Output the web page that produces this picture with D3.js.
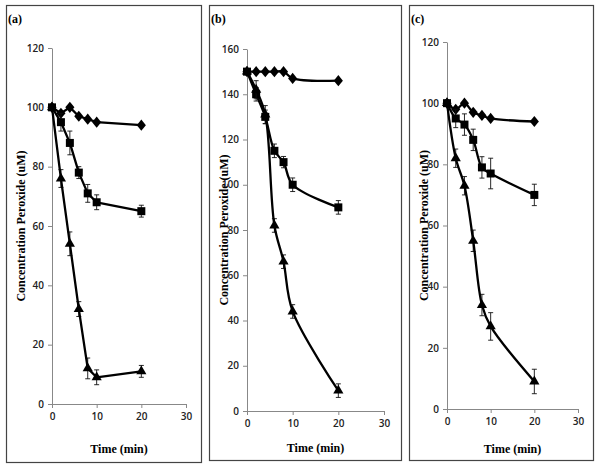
<!DOCTYPE html>
<html><head><meta charset="utf-8">
<script src="https://cdn.jsdelivr.net/npm/d3@7"></script>
<style>body{margin:0;background:#fff}svg{display:block}
.serif{font-family:"Liberation Serif","Times New Roman",serif;font-weight:bold}
</style>
</head><body>
<svg id="c" width="600" height="469"></svg>
<script>
const times = [0, 2, 4, 6, 8, 10, 20];
const xTicks = [0, 10, 20, 30];

// Panel (a)
const aDiamond = [100, 98, 100, 97, 96, 95, 94];
const aSquare = [100, 95, 88, 78, 71, 68, 65];
const aSquareErr = [0, 3, 4, 2, 3, 2.5, 2];
const aTriangle = [100, 76, 54, 32, 12, 9, 11];
const aTriangleErr = [0, 3, 4, 2.5, 3.5, 2.5, 2];
const aYTicks = [0, 20, 40, 60, 80, 100, 120];

// Panel (b)
const bDiamond = [150, 150, 150, 150, 150, 147, 146];
const bSquare = [150, 140, 130, 115, 110, 100, 90];
const bSquareErr = [0, 3, 3, 3, 2.5, 3, 3];
const bTriangle = [150, 142, 131, 82, 66, 44, 9];
const bTriangleErr = [0, 4, 4, 3, 3, 3, 3];
const bYTicks = [0, 20, 40, 60, 80, 100, 120, 140, 160];

// Panel (c)
const cDiamond = [100, 98, 100, 97, 96, 95, 94];
const cSquare = [100, 95, 93, 88, 79, 77, 70];
const cSquareErr = [0, 3, 3.5, 3.5, 3.5, 5, 3.5];
const cTriangle = [100, 82, 73, 55, 34, 27, 9];
const cTriangleErr = [0, 3, 3, 3.5, 3.5, 4.5, 4];
const cYTicks = [0, 20, 40, 60, 80, 100, 120];

const svg = d3.select("#c");

const panels = [
  {label:"(a)", box:[6,5,201,462], x0:52, x1:186, y0:404, y1:48, ymax:120, yt:aYTicks,
   diamond:aDiamond, square:aSquare, sErr:aSquareErr, tri:aTriangle, tErr:aTriangleErr,
   smooth:false, titleY:453},
  {label:"(b)", box:[209,5,401,460], x0:247, x1:384, y0:411, y1:49, ymax:160, yt:bYTicks,
   diamond:bDiamond, square:bSquare, sErr:bSquareErr, tri:bTriangle, tErr:bTriangleErr,
   smooth:true, titleY:452},
  {label:"(c)", box:[409,5,593,460], x0:447, x1:578, y0:409, y1:42, ymax:120, yt:cYTicks,
   diamond:cDiamond, square:cSquare, sErr:cSquareErr, tri:cTriangle, tErr:cTriangleErr,
   smooth:true, titleY:453}
];

panels.forEach(p => {
  const g = svg.append("g");
  const [bx0, by0, bx1, by1] = p.box;
  g.append("rect").attr("x", bx0+0.5).attr("y", by0+0.5)
    .attr("width", bx1-bx0).attr("height", by1-by0)
    .attr("fill", "none").attr("stroke", "#444").attr("stroke-width", 1.2);
  g.append("text").attr("class", "serif").attr("x", bx0+2).attr("y", by0+18)
    .attr("font-size", 12).attr("fill", "#000").text(p.label);

  const x = d3.scaleLinear().domain([0, 30]).range([p.x0, p.x1]);
  const y = d3.scaleLinear().domain([0, p.ymax]).range([p.y0, p.y1]);

  const xAxis = g.append("g").attr("transform", `translate(0,${p.y0})`)
    .call(d3.axisBottom(x).tickValues(xTicks).tickSize(4).tickSizeOuter(0));
  const yAxis = g.append("g").attr("transform", `translate(${p.x0},0)`)
    .call(d3.axisLeft(y).tickValues(p.yt).tickSize(4).tickSizeOuter(0));
  [xAxis, yAxis].forEach(a => {
    a.select(".domain").attr("stroke", "#888").attr("stroke-width", 1);
    a.selectAll(".tick line").attr("stroke", "#888");
    a.selectAll(".tick text").attr("font-family", "Open Sans").attr("font-size", 10)
      .attr("font-weight", "600").attr("fill", "#222");
  });
  xAxis.selectAll(".tick text").attr("y", 9);
  yAxis.selectAll(".tick text").attr("x", -8);

  g.append("text").attr("class", "serif").attr("x", (p.x0+p.x1)/2).attr("y", p.titleY)
    .attr("text-anchor", "middle").attr("font-size", 12).text("Time (min)");
  g.append("text").attr("class", "serif")
    .attr("transform", `translate(${bx0+19},${(p.y0+p.y1)/2}) rotate(-90)`)
    .attr("text-anchor", "middle").attr("font-size", 12)
    .text("Concentration Peroxide (uM)");

  const line = d3.line().x((d,i) => x(times[i])).y(d => y(d))
    .curve(p.smooth ? d3.curveCatmullRom.alpha(0.5) : d3.curveLinear);

  const series = [
    {vals:p.diamond, err:null, sym:d3.symbolDiamond, size:50},
    {vals:p.square, err:p.sErr, sym:d3.symbolSquare, size:64},
    {vals:p.tri, err:p.tErr, sym:d3.symbolTriangle, size:45}
  ];
  series.forEach(s => {
    if (s.err) {
      const eg = g.append("g").attr("stroke", "#111").attr("stroke-width", 0.9);
      s.vals.forEach((v, i) => {
        if (!s.err[i]) return;
        const cx = x(times[i]), yt = y(v + s.err[i]), yb = y(v - s.err[i]);
        eg.append("line").attr("x1", cx).attr("x2", cx).attr("y1", yt).attr("y2", yb);
        eg.append("line").attr("x1", cx-2.5).attr("x2", cx+2.5).attr("y1", yt).attr("y2", yt);
        eg.append("line").attr("x1", cx-2.5).attr("x2", cx+2.5).attr("y1", yb).attr("y2", yb);
      });
    }
    g.append("path").datum(s.vals).attr("d", line)
      .attr("fill", "none").attr("stroke", "#000").attr("stroke-width", 2.3)
      .attr("stroke-linejoin", "round");
    g.selectAll(null).data(s.vals).join("path")
      .attr("transform", (d,i) => `translate(${x(times[i])},${y(d)})` +
        (s.sym === d3.symbolDiamond ? " scale(1.2,0.85)" : ""))
      .attr("d", d3.symbol().type(s.sym).size(s.size))
      .attr("fill", "#000");
  });
});
</script>
</body></html>
